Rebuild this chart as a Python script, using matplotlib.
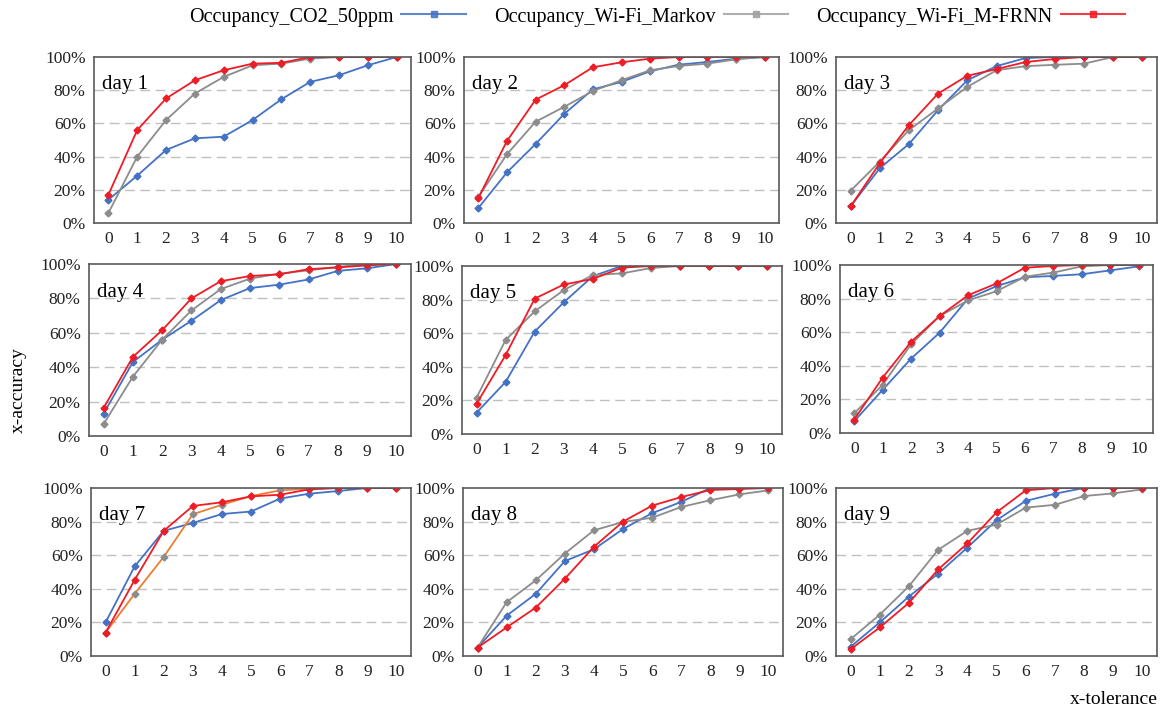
import matplotlib.pyplot as plt
from matplotlib.lines import Line2D

plt.rcParams['font.family'] = ['Liberation Serif', 'DejaVu Serif']

tolerance = list(range(11))
days = ['day 1', 'day 2', 'day 3', 'day 4', 'day 5', 'day 6', 'day 7', 'day 8', 'day 9']
series_names = ['Occupancy_CO2_50ppm', 'Occupancy_Wi-Fi_Markov', 'Occupancy_Wi-Fi_M-FRNN']

# x-accuracy (%) per day
co2 = [
    [14, 28.5, 44, 51, 52, 62, 74.5, 85, 89, 95, 100],
    [9, 30.5, 47.6, 65.7, 80.5, 85, 91.4, 95.4, 97, 99, 100],
    [10, 33, 47.6, 68, 86, 94.5, 99.4, 100, 100, 100, 100],
    [13, 43, 56, 67, 79, 86, 88, 91, 96, 97.5, 100],
    [12.7, 31, 61, 78.4, 94, 100, 100, 100, 100, 100, 100],
    [7, 25.7, 44.3, 59.7, 80, 87.4, 92.7, 93.5, 94.5, 96.8, 99.2],
    [20, 53.3, 74.5, 79.2, 84.5, 86, 93.7, 96.6, 98.2, 100, 100],
    [5, 24, 37, 56.5, 63.5, 75.6, 85, 91.7, 100, 100, 100],
    [5.5, 20, 35.4, 49, 64.5, 80.8, 92.3, 96.6, 100, 100, 100],
]
markov = [
    [6, 40, 62, 78, 88, 95, 96, 99, 100, 100, 100],
    [15.7, 41.4, 61, 70, 79.5, 86, 92, 94.6, 96, 98.6, 100],
    [19.4, 37, 56, 69, 82, 92, 94.5, 95.3, 96, 100, 100],
    [7, 34.5, 56, 73, 85.4, 91.5, 94.4, 96.3, 98.3, 100, 100],
    [21.6, 56, 73, 85.7, 94.6, 95.6, 98.8, 100, 100, 100, 100],
    [11.7, 28.7, 52.8, 69.6, 78.9, 84.4, 93, 95.5, 99.2, 100, 100],
    [13.9, 37, 59, 84.4, 90, 95.2, 98.6, 99.6, 100, 100, 100],
    [5, 32, 45, 61, 74.8, 79.8, 82.3, 88.7, 92.7, 96.2, 98.6],
    [10, 24.6, 41.6, 63.2, 74.5, 78.2, 88.3, 90, 95.2, 96.8, 99.2],
]
frnn = [
    [17, 56, 75, 86, 92, 96, 96.5, 100, 100, 100, 100],
    [15, 49.4, 74.3, 83, 93.8, 96.8, 99, 100, 100, 100, 100],
    [10, 36, 59, 78, 88.7, 92.7, 97, 98.8, 100, 100, 100],
    [16.3, 46, 61.5, 80, 90, 93, 94, 97, 98, 99.2, 100],
    [18, 47, 80.6, 89, 92.3, 99, 100, 100, 100, 100, 100],
    [8, 33, 54.3, 69.6, 82, 89, 98.4, 99.4, 100, 100, 100],
    [13.9, 45.3, 74.5, 89.3, 91.5, 95, 96, 99.2, 100, 100, 100],
    [5, 17, 28.8, 46, 65, 80, 89.5, 94.6, 98.8, 99.4, 100],
    [4, 17, 31.7, 51.5, 67, 85.5, 98.6, 100, 100, 100, 100],
]

blue = '#4472C4'
gray = '#8C8C8C'
red = '#EE1C25'
orange = '#ED7D31'

W, H = 1172, 713
# panel rectangles in pixels: left, top, right, bottom
rects = [
    (94, 57, 411, 223), (464, 57, 779, 223), (836, 57, 1157, 223),
    (89, 264, 411, 436), (462, 266, 782, 434), (840, 265, 1153, 433),
    (91, 488, 411, 656), (463, 488, 783, 656), (836, 488, 1157, 656),
]

fig = plt.figure(figsize=(W / 100, H / 100), dpi=100)
for i, (l, t, r, b) in enumerate(rects):
    ax = fig.add_axes([l / W, 1 - b / H, (r - l) / W, (b - t) / H])
    for y in [20, 40, 60, 80]:
        ax.axhline(y, color='#C0C0C0', lw=1, dashes=(7, 4), zorder=0)
    ax.plot(tolerance, co2[i], color=blue, marker='D', ms=3.5, lw=1.3)
    mk_line = orange if i == 6 else gray
    ax.plot(tolerance, markov[i], color=mk_line, marker='D', ms=3.5, lw=1.3,
            mfc=gray, mec=gray)
    ax.plot(tolerance, frnn[i], color=red, marker='D', ms=3.5, lw=1.3)
    ax.set_xlim(-0.5, 10.5)
    ax.set_ylim(0, 100)
    ax.set_xticks(tolerance)
    ax.set_yticks([0, 20, 40, 60, 80, 100])
    ax.set_yticklabels(['0%', '20%', '40%', '60%', '80%', '100%'])
    ax.tick_params(length=0, labelsize=12.5, pad=6, colors='#222222')
    for s in ax.spines.values():
        s.set_color('#595959')
        s.set_linewidth(1.2)
    ax.text(0.025, 0.89, days[i], transform=ax.transAxes, fontsize=15, va='top')

handles = [Line2D([], [], color=c, lw=1.5, marker='s', ms=4, alpha=0.85)
           for c in [blue, '#A0A0A0', red]]
fig.legend(handles, series_names,
           loc='center', bbox_to_anchor=(657 / W, 1 - 17 / H), ncol=3, frameon=False,
           markerfirst=False, fontsize=14.5, columnspacing=1.4, handlelength=3.2,
           handletextpad=0.4)
fig.text(18 / W, 1 - 390 / H, 'x-accuracy', rotation=90, va='center', ha='center', fontsize=14)
fig.text(1158 / W, 1 - 700 / H, 'x-tolerance', ha='right', va='center', fontsize=14)

fig.savefig('out.png', dpi=100)
